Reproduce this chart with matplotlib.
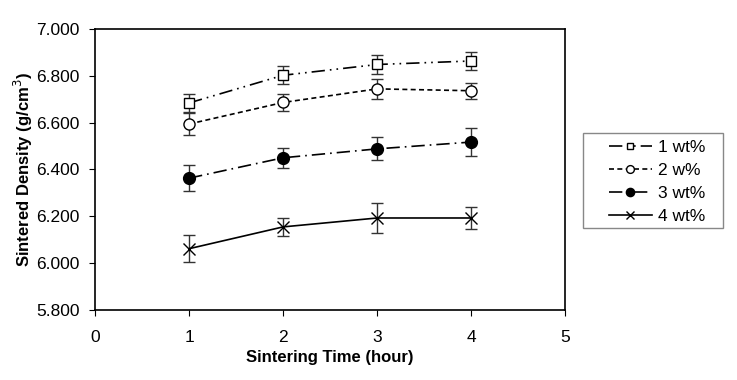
import numpy as np
import matplotlib
matplotlib.use("Agg")
import matplotlib.pyplot as plt
from matplotlib.lines import Line2D
from matplotlib.patches import Rectangle

plt.rcParams['font.family'] = ['Liberation Sans', 'DejaVu Sans']

# datos
hours = [1, 2, 3, 4]
d1 = [6.684, 6.802, 6.848, 6.863]
e1 = [0.040, 0.038, 0.040, 0.040]
d2 = [6.594, 6.686, 6.744, 6.736]
e2 = [0.045, 0.036, 0.043, 0.034]
d3 = [6.363, 6.450, 6.488, 6.517]
e3 = [0.055, 0.043, 0.049, 0.060]
d4 = [6.062, 6.155, 6.193, 6.193]
e4 = [0.058, 0.038, 0.062, 0.045]
labels = ["1 wt%", "2 w%", "3 wt%", "4 wt%"]

fig = plt.figure(figsize=(7.37, 3.8), dpi=100)
ax = fig.add_axes([0.129, 0.184, 0.638, 0.740])

styles = [
    dict(marker='s', mfc='white', ms=7, ls=(0, (8, 3, 1, 3, 1, 3))),
    dict(marker='o', mfc='white', ms=8, ls=(0, (3, 2))),
    dict(marker='o', mfc='black', ms=8.5, ls=(0, (8, 3, 1, 3))),
    dict(marker='x', mfc='black', ms=8.5, ls='-'),
]
handles = []
for d, e, lab, st in zip([d1, d2, d3, d4], [e1, e2, e3, e4], labels, styles):
    ax.errorbar(hours, d, yerr=e, color='black', mec='black', lw=1.2,
                elinewidth=1.0, ecolor='#333333', capsize=4, capthick=1.0,
                **st)
    hst = dict(st)
    hst['ms'] = st['ms'] * 0.7
    handles.append(Line2D([], [], color='black', mec='black', lw=1.2,
                          label=lab, **hst))

ax.set_xlim(0, 5)
ax.set_ylim(5.8, 7.0)
ax.set_xticks(range(6))
ax.set_yticks(np.arange(5.8, 7.01, 0.2))
ax.set_yticklabels([f"{v:.3f}" for v in np.arange(5.8, 7.01, 0.2)])
ax.tick_params(direction='out', length=4, labelsize=12.5, pad=7)
ax.tick_params(axis='x', pad=10)
for s in ax.spines.values():
    s.set_linewidth(1.2)

ax.set_xlabel("Sintering Time (hour)", fontsize=12, fontweight='bold', labelpad=4)
ax.set_ylabel("Sintered Density (g/cm$^3$)", fontsize=12, fontweight='bold')
ax.yaxis.set_label_coords(-0.128, 0.5)

# caja de la leyenda dibujada a mano (mas ancha que el contenido)
fig.patches.append(Rectangle((0.791, 0.400), 0.190, 0.250, transform=fig.transFigure,
                             fill=False, edgecolor='#888888', lw=1.0))
leg = fig.legend(handles=handles, loc='upper left', bbox_to_anchor=(0.826, 0.632),
                 fontsize=12.5, frameon=False, borderpad=0, borderaxespad=0,
                 handlelength=2.5, labelspacing=0.45, handletextpad=0.35)

fig.savefig("out.png", dpi=100)
